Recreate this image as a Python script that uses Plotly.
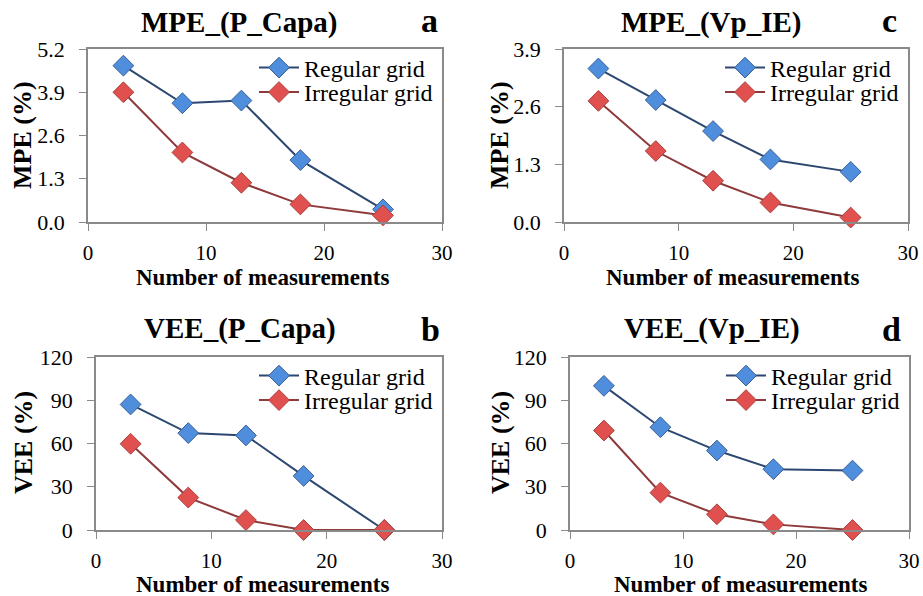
import plotly.graph_objects as go

# ---- data ----
n_meas = [3, 8, 13, 18, 25]

mpe_pcapa_regular = [4.70, 3.57, 3.65, 1.86, 0.38]
mpe_pcapa_irregular = [3.90, 2.09, 1.18, 0.53, 0.20]

mpe_vpie_regular = [3.46, 2.75, 2.05, 1.41, 1.13]
mpe_vpie_irregular = [2.73, 1.60, 0.93, 0.44, 0.10]

vee_pcapa_regular = [87.1, 67.2, 65.6, 37.5, 0.0]
vee_pcapa_irregular = [59.8, 22.5, 6.9, 0.0, 0.0]

vee_vpie_regular = [100.0, 71.3, 55.1, 42.2, 41.2]
vee_vpie_irregular = [69.0, 25.9, 10.9, 3.9, 0.0]

series_names = ["Regular grid", "Irregular grid"]
panel_titles = ["MPE_(P_Capa)", "MPE_(Vp_IE)", "VEE_(P_Capa)", "VEE_(Vp_IE)"]
panel_letters = ["a", "c", "b", "d"]
y_titles = ["MPE (%)", "MPE (%)", "VEE (%)", "VEE (%)"]
y_ranges = [[0, 5.2], [0, 3.9], [0, 120], [0, 120]]
y_dticks = [1.3, 1.3, 30, 30]
y_formats = [".1f", ".1f", "d", "d"]
x_title = "Number of measurements"

W, H = 923, 596
FONT = "Liberation Serif, Times New Roman, serif"

# panel geometry in pixels: (left, right, top, bottom)
boxes = [(88, 442, 49, 222), (564, 908, 49, 222), (96, 442, 357, 530), (570, 909, 357, 530)]
# text anchor positions in pixels
title_pos = [(240, 22), (711, 22), (240, 328), (712, 328)]
letter_pos = [(429, 0), (889, 0), (430, 309), (891, 309)]   # top of the letter box
xtitle_pos = [(262, 277), (732, 277), (262, 584), (740, 584)]
ytitle_pos = [(22, 135), (499, 135), (23, 443), (500, 443)]

panel_data = [
    (mpe_pcapa_regular, mpe_pcapa_irregular),
    (mpe_vpie_regular, mpe_vpie_irregular),
    (vee_pcapa_regular, vee_pcapa_irregular),
    (vee_vpie_regular, vee_vpie_irregular),
]

line_colors = ["#2C4770", "#8E3A3A"]
fill_colors = ["#4F8EDC", "#E0504E"]
edge_colors = ["#3A5F95", "#A8403E"]

fig = go.Figure()
layout = dict(width=W, height=H, margin=dict(l=0, r=0, t=0, b=0, autoexpand=False),
              paper_bgcolor="white", plot_bgcolor="white", showlegend=True,
              font=dict(family=FONT, color="black"))
annotations = []
axis_color = "#8A8A8A"

def px(x):
    return x / W

def py(y):
    return 1 - y / H

leg_count = 1
for i, (box, (reg, irr)) in enumerate(zip(boxes, panel_data)):
    l, r, t, b = box
    k = "" if i == 0 else str(i + 1)
    xa, ya = "x" + k, "y" + k
    for j, vals in enumerate((reg, irr)):
        leg_count += 1
        leg = "legend" + str(leg_count)
        fig.add_trace(go.Scatter(
            x=n_meas, y=vals, name=series_names[j], xaxis=xa, yaxis=ya,
            mode="lines+markers", legend=leg, cliponaxis=False, showlegend=True,
            line=dict(color=line_colors[j], width=2),
            marker=dict(symbol="diamond", size=16, color=fill_colors[j],
                        line=dict(color=edge_colors[j], width=1)),
        ))
        layout[leg] = dict(
            x=px(r - 188), y=py(t + 19 + 24.5 * j), xanchor="left", yanchor="middle",
            bgcolor="rgba(0,0,0,0)", font=dict(size=24, family=FONT),
            itemwidth=40,
        )
    layout["xaxis" + k] = dict(
        domain=[px(l), px(r)], anchor=ya, range=[0, 30], dtick=10, tick0=0,
        showline=True, linecolor=axis_color, linewidth=1.5, mirror=True, automargin=False,
        ticks="outside", ticklen=7, tickcolor=axis_color, showgrid=False,
        ticklabelstandoff=4,
        zeroline=False, tickfont=dict(size=21, family=FONT),
    )
    layout["yaxis" + k] = dict(
        domain=[py(b), py(t)], anchor=xa, range=y_ranges[i], dtick=y_dticks[i], tick0=0,
        tickformat=y_formats[i], automargin=False,
        showline=True, linecolor=axis_color, linewidth=1.5, mirror=True,
        ticks="outside", ticklen=7, tickcolor=axis_color, showgrid=False,
        ticklabelstandoff=10,
        zeroline=False, tickfont=dict(size=22, family=FONT),
    )
    annotations.append(dict(text="<b>" + panel_titles[i] + "</b>",
                            x=px(title_pos[i][0]), y=py(title_pos[i][1]),
                            xref="paper", yref="paper", showarrow=False,
                            font=dict(size=29, family=FONT), xanchor="center", yanchor="middle"))
    annotations.append(dict(text="<b>" + panel_letters[i] + "</b>",
                            x=px(letter_pos[i][0]), y=py(letter_pos[i][1]),
                            xref="paper", yref="paper", showarrow=False,
                            font=dict(size=34, family=FONT), xanchor="center", yanchor="top"))
    annotations.append(dict(text="<b>" + x_title + "</b>",
                            x=px(xtitle_pos[i][0]), y=py(xtitle_pos[i][1]),
                            xref="paper", yref="paper", showarrow=False,
                            font=dict(size=23, family=FONT), xanchor="center", yanchor="middle"))
    annotations.append(dict(text="<b>" + y_titles[i] + "</b>",
                            x=px(ytitle_pos[i][0]), y=py(ytitle_pos[i][1]),
                            xref="paper", yref="paper", showarrow=False, textangle=-90,
                            font=dict(size=26, family=FONT), xanchor="center", yanchor="middle"))

layout["annotations"] = annotations
fig.update_layout(**layout)
fig.write_html("out.html", config={"displayModeBar": False},
               post_script="document.body.style.margin='0';")
